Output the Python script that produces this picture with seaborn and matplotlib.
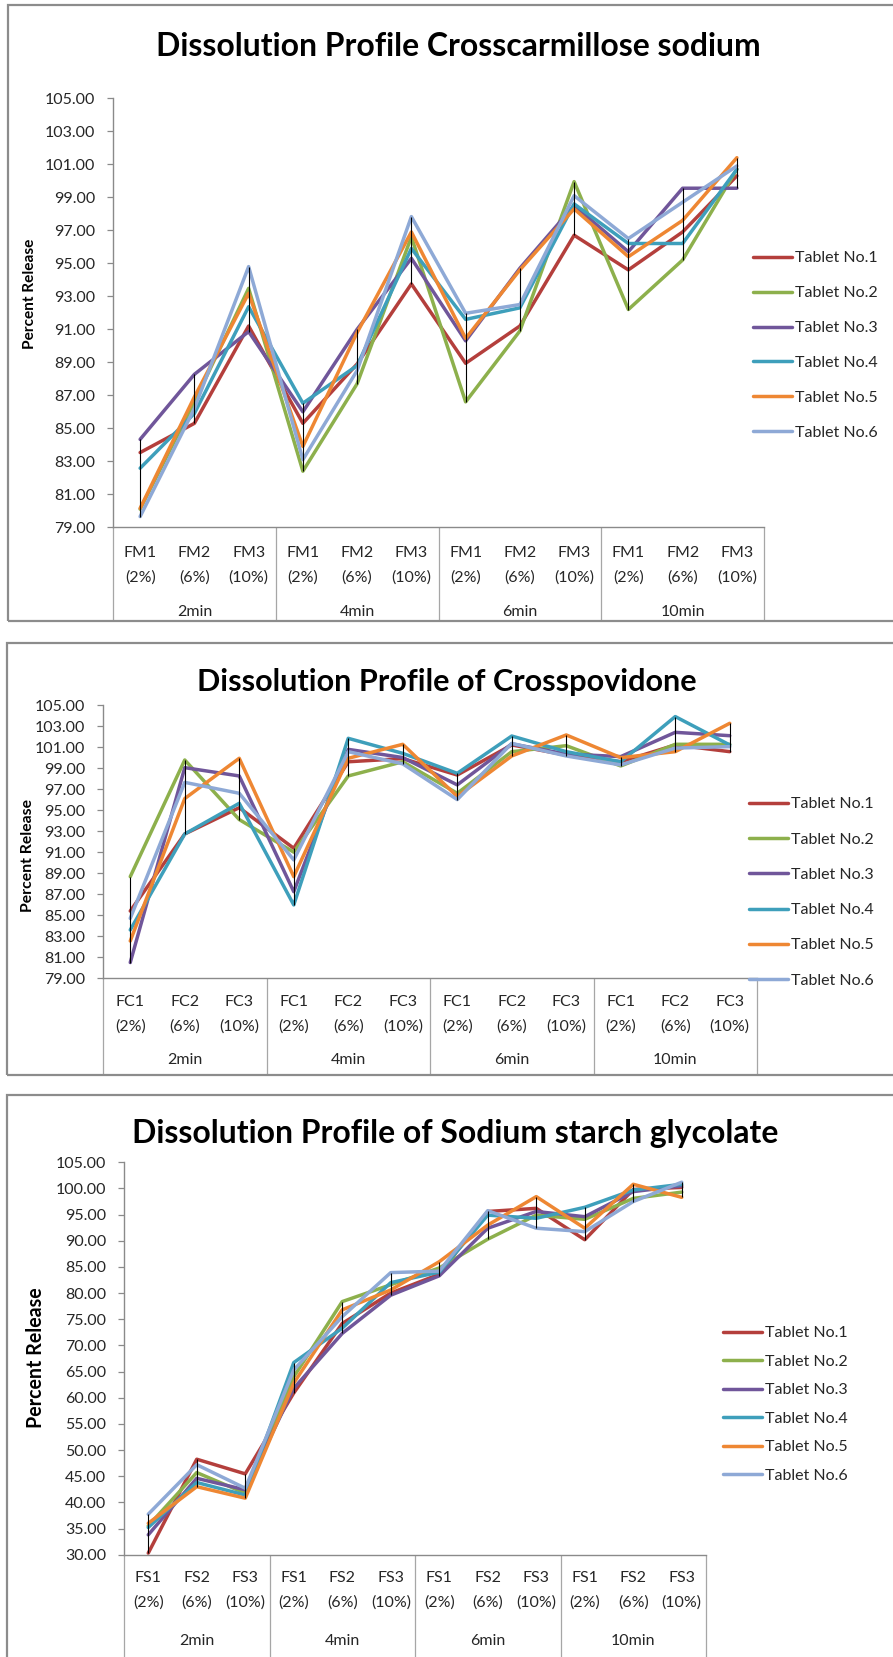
import numpy as np
import pandas as pd
import matplotlib
matplotlib.use("Agg")
import matplotlib.pyplot as plt
import seaborn as sns
from matplotlib.patches import Rectangle

W, H, DPI = 893, 1657, 100

# ---------------- data ----------------
tablets = ["Tablet No.1", "Tablet No.2", "Tablet No.3", "Tablet No.4", "Tablet No.5", "Tablet No.6"]
times = ["2min", "4min", "6min", "10min"]
percents = ["(2%)", "(6%)", "(10%)"]
fm_codes = ["FM1", "FM2", "FM3"]
fc_codes = ["FC1", "FC2", "FC3"]
fs_codes = ["FS1", "FS2", "FS3"]

# Crosscarmellose sodium
ccs_t1 = [83.53, 85.30, 91.20, 85.30, 88.90, 93.75, 88.94, 91.20, 96.70, 94.60, 96.90, 100.30]
ccs_t2 = [80.10, 86.60, 93.48, 82.40, 87.70, 96.60, 86.60, 90.90, 99.95, 92.20, 95.20, 100.70]
ccs_t3 = [84.33, 88.27, 90.86, 86.00, 91.00, 95.30, 90.30, 94.70, 98.50, 95.70, 99.55, 99.55]
ccs_t4 = [82.58, 85.90, 92.37, 86.52, 88.80, 95.90, 91.60, 92.30, 98.60, 96.20, 96.20, 100.70]
ccs_t5 = [80.15, 86.90, 93.18, 83.90, 90.80, 96.90, 90.45, 94.60, 98.30, 95.40, 97.60, 101.40]
ccs_t6 = [79.65, 86.20, 94.80, 83.10, 88.50, 97.83, 91.97, 92.50, 99.10, 96.50, 98.70, 100.90]

# Crosspovidone
cp_t1 = [85.40, 92.73, 95.23, 91.37, 99.60, 99.90, 98.34, 101.20, 100.24, 99.60, 101.20, 100.56]
cp_t2 = [88.67, 99.77, 94.10, 91.00, 98.25, 99.60, 96.60, 100.56, 101.13, 99.20, 101.26, 101.26]
cp_t3 = [80.50, 99.04, 98.25, 87.24, 100.78, 100.00, 97.40, 101.30, 100.34, 100.09, 102.40, 102.08]
cp_t4 = [83.60, 92.73, 95.65, 85.98, 101.83, 100.40, 98.50, 102.05, 100.56, 99.60, 103.90, 101.20]
cp_t5 = [82.55, 96.10, 99.93, 88.67, 99.93, 101.26, 96.30, 100.15, 102.15, 99.99, 100.56, 103.26]
cp_t6 = [84.70, 97.64, 96.60, 90.26, 100.56, 99.40, 96.00, 101.35, 100.15, 99.30, 100.90, 101.04]

# Sodium starch glycolate
ssg_t1 = [30.30, 48.25, 45.45, 60.90, 74.20, 80.00, 83.60, 95.60, 96.20, 90.20, 99.80, 100.20]
ssg_t2 = [35.50, 45.70, 41.75, 64.00, 78.38, 81.60, 84.80, 90.30, 94.90, 94.10, 98.10, 99.30]
ssg_t3 = [33.80, 44.60, 42.40, 61.80, 72.30, 79.60, 83.30, 92.40, 95.60, 94.60, 99.40, 100.50]
ssg_t4 = [35.20, 43.80, 41.40, 66.72, 73.30, 82.00, 84.00, 94.90, 94.30, 96.40, 99.70, 100.80]
ssg_t5 = [36.00, 43.00, 40.80, 62.80, 76.80, 80.60, 86.00, 93.00, 98.44, 92.40, 100.80, 98.30]
ssg_t6 = [37.74, 47.20, 42.70, 65.30, 75.50, 83.92, 84.20, 95.76, 92.40, 91.75, 97.50, 101.20]

titles = ["Dissolution Profile Crosscarmillose sodium",
          "Dissolution Profile of Crosspovidone",
          "Dissolution Profile of Sodium starch glycolate"]
ylabel = "Percent Release"

colors = ["#B43F3C", "#8DB04C", "#70569A", "#3E9FBB", "#EE8733", "#8EA9D6"]

# ---------------- style ----------------
sns.set_theme(style="white")
plt.rcParams["font.family"] = ["Lato", "DejaVu Sans"]
TXT = "#262626"
AXC = "#8A8A8A"

fig = plt.figure(figsize=(W / DPI, H / DPI), dpi=DPI)
fig.patch.set_facecolor("white")


def fx(px):
    return px / W


def fy(py):
    return 1 - py / H


def long_frame(series, codes):
    labels = [f"{c}\n{p}" for t in times for c, p in zip(codes, percents)]
    rows = []
    for name, vals in zip(tablets, series):
        for i, v in enumerate(vals):
            rows.append({"pos": i, "label": labels[i], "value": v, "tablet": name})
    return pd.DataFrame(rows)


panels = [
    dict(series=[ccs_t1, ccs_t2, ccs_t3, ccs_t4, ccs_t5, ccs_t6], codes=fm_codes,
         title=titles[0], ylim=(79, 105), ystep=2,
         box=(8, 5, 621), ax=(113, 764, 98.3, 527.3),
         title_xy=(458, 47), title_w=605, ylab_xy=(30, 294), ylab_len=110,
         rows=(553, 578, 612), leg=(753, 258, 34.4)),
    dict(series=[cp_t1, cp_t2, cp_t3, cp_t4, cp_t5, cp_t6], codes=fc_codes,
         title=titles[1], ylim=(79, 105), ystep=2,
         box=(7, 643, 1075), ax=(103, 757, 705, 978.3),
         title_xy=(447, 682), title_w=501, ylab_xy=(28, 855), ylab_len=112,
         rows=(1002, 1027, 1060), leg=(749, 804, 34.8)),
    dict(series=[ssg_t1, ssg_t2, ssg_t3, ssg_t4, ssg_t5, ssg_t6], codes=fs_codes,
         title=titles[2], ylim=(30, 105), ystep=5,
         box=(7, 1095, 1700), ax=(124, 706, 1162.3, 1554.7),
         title_xy=(455, 1134), title_w=645, ylab_xy=(36, 1358), ylab_len=140,
         rows=(1578, 1603, 1641), leg=(723, 1333, 28.0)),
]

renderer = fig.canvas.get_renderer()
LEG_FS = 11.5
fs_px = LEG_FS * DPI / 72
TEXT_H = 13.7

for P in panels:
    bx0, by0, by1 = P["box"]
    fig.patches.append(Rectangle((fx(bx0), fy(by1)), fx(W + 20) - fx(bx0), fy(by0) - fy(by1),
                                 transform=fig.transFigure, fill=False,
                                 edgecolor="#8C8C8C", linewidth=1.6, zorder=0))
    axl, axr, ayt, ayb = P["ax"]
    ax = fig.add_axes([fx(axl), fy(ayb), fx(axr) - fx(axl), fy(ayt) - fy(ayb)])
    ax.set_facecolor("none")
    df = long_frame(P["series"], P["codes"])
    sns.lineplot(data=df, x="pos", y="value", hue="tablet", hue_order=tablets,
                 palette=colors, linewidth=2.5, ax=ax, sort=False, estimator=None,
                 legend=True)
    # high-low lines
    stats = df.groupby("pos")["value"].agg(["min", "max"])
    ax.vlines(stats.index, stats["min"], stats["max"], colors="black", linewidth=0.8, zorder=5)

    ymin, ymax = P["ylim"]
    ax.set_ylim(ymin, ymax)
    ax.set_xlim(-0.5, 11.5)
    yt = np.arange(ymin, ymax + 0.001, P["ystep"])
    ax.set_yticks(yt)
    ax.set_yticklabels([f"{v:.2f}" for v in yt])
    ax.set_xticks([])
    ax.set_xlabel("")
    ax.set_ylabel("")
    for s in ["top", "right"]:
        ax.spines[s].set_visible(False)
    for s in ["left", "bottom"]:
        ax.spines[s].set_color(AXC)
        ax.spines[s].set_linewidth(1.0)
    ax.tick_params(axis="y", which="both", left=True, length=4.5, width=0.9, color=AXC,
                   pad=8.5, labelsize=11.5, labelcolor=TXT)

    # category axis labels
    hpx = ayb - ayt
    tr = ax.get_xaxis_transform()
    r1, r2, r3 = P["rows"]
    labels = df.drop_duplicates("pos")["label"].tolist()
    for i, lab in enumerate(labels):
        code, pct = lab.split("\n")
        ax.text(i, (ayb - r1) / hpx, code, transform=tr, ha="center", va="center",
                fontsize=11.5, color=TXT)
        ax.text(i, (ayb - r2) / hpx, pct, transform=tr, ha="center", va="center",
                fontsize=11.5, color=TXT)
    for g, t in enumerate(times):
        ax.text(3 * g + 1, (ayb - r3) / hpx, t, transform=tr, ha="center", va="center",
                fontsize=11.5, color=TXT)
    ax.vlines([-0.5, 2.5, 5.5, 8.5, 11.5], (ayb - by1) / hpx, 0, transform=tr,
              colors="#A6A6A6", linewidth=0.9, clip_on=False)

    # legend
    lx, ly, lp = P["leg"]
    sns.move_legend(ax, "upper left", bbox_to_anchor=(fx(lx), fy(ly - TEXT_H / 2)),
                    bbox_transform=fig.transFigure, frameon=False, title=None,
                    fontsize=LEG_FS, handlelength=39 / fs_px, handletextpad=0.2,
                    labelspacing=(lp - TEXT_H) / fs_px, borderpad=0, borderaxespad=0)
    leg = ax.get_legend()
    for t in leg.get_texts():
        t.set_color(TXT)

    # title, fitted to width
    tx, ty = P["title_xy"]
    tt = fig.text(fx(tx), fy(ty), P["title"], ha="center", va="center",
                  fontsize=20, fontweight="bold", color="black")
    w = tt.get_window_extent(renderer).width
    tt.set_fontsize(20 * P["title_w"] / w)

    # y label, fitted to length
    lxp, lyp = P["ylab_xy"]
    yl = fig.text(fx(lxp), fy(lyp), ylabel, rotation=90, ha="center", va="center",
                  fontsize=12, fontweight="bold", color="black")
    h = yl.get_window_extent(renderer).height
    yl.set_fontsize(12 * P["ylab_len"] / h)

fig.savefig("out.png", dpi=DPI, facecolor="white")
